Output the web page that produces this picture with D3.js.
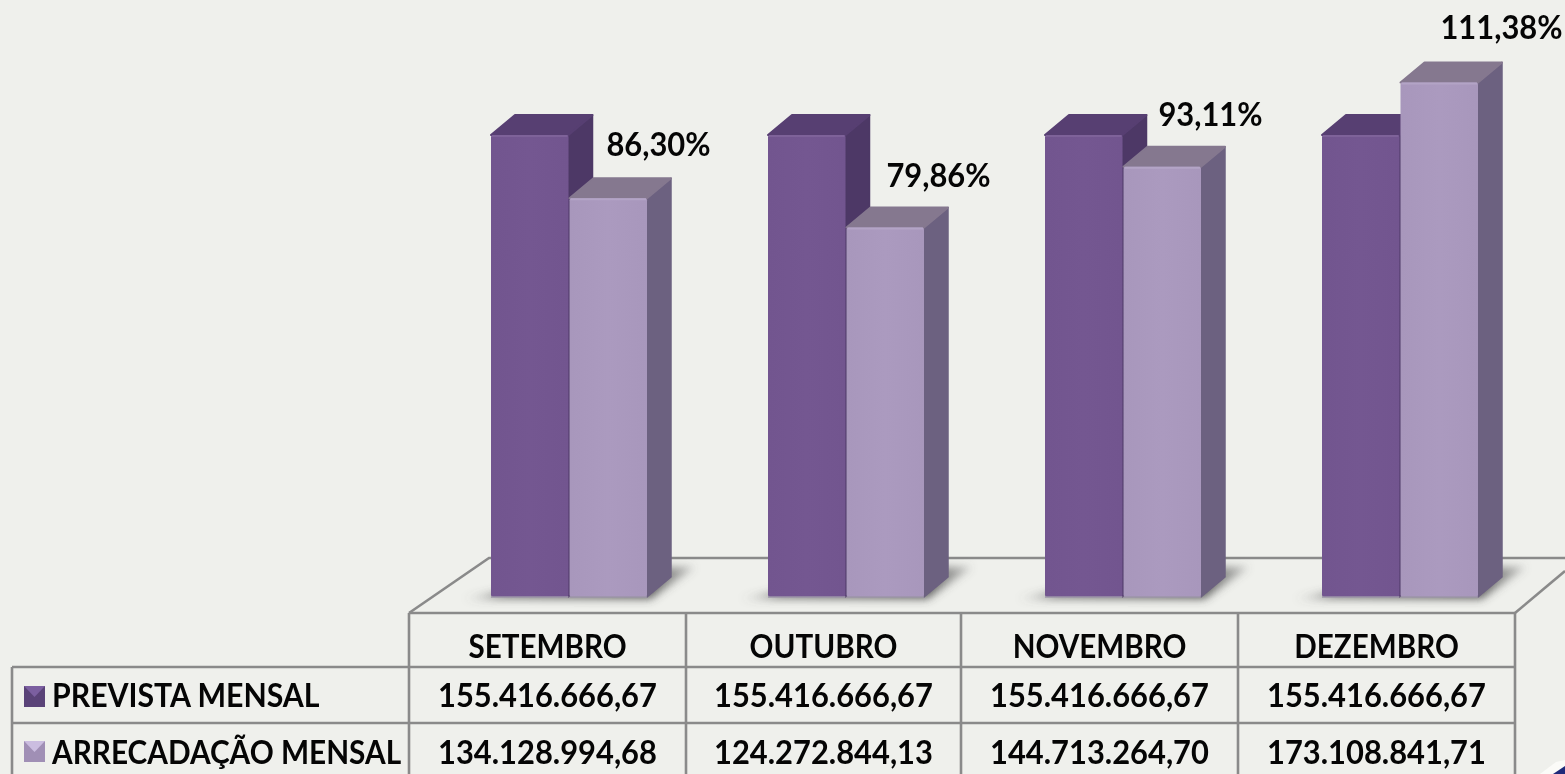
<!DOCTYPE html>
<html><head><meta charset="utf-8">
<script src="https://cdnjs.cloudflare.com/ajax/libs/d3/7.8.5/d3.min.js"></script>
<style>html,body{margin:0;padding:0;background:#eff0ec;overflow:hidden}svg{display:block;filter:blur(.55px)}text{font-family:Lato,"Open Sans",sans-serif;font-weight:700;fill:#050505}</style>
</head><body><svg id="c" width="1565" height="774"></svg>
<script>
const categories=["SETEMBRO","OUTUBRO","NOVEMBRO","DEZEMBRO"];
const prevista=[155416666.67,155416666.67,155416666.67,155416666.67];
const arrecadacao=[134128994.68,124272844.13,144713264.70,173108841.71];
const previstaLabels=["155.416.666,67","155.416.666,67","155.416.666,67","155.416.666,67"];
const arrecadacaoLabels=["134.128.994,68","124.272.844,13","144.713.264,70","173.108.841,71"];
const percentLabels=["86,30%","79,86%","93,11%","111,38%"];
const labelShiftX=[49,52,47,61];
const labelShiftY=[42,40.5,41,43];
const seriesNames=["PREVISTA MENSAL","ARRECADAÇÃO MENSAL"];

const W=1565,H=774,svg=d3.select("#c");
const y=d3.scaleLinear().domain([0,173108841.71]).range([597,82.4]);
const x=d3.scaleBand().domain(categories).range([430,1538]).paddingInner(0).paddingOuter(0);
const barW=77.5,dx=24,dy=20;
const center=c=>x(c)+x.bandwidth()/2;
const grid="#8a8a8a";
const defs=svg.append("defs");
defs.append("filter").attr("id","blur").attr("x","-30%").attr("y","-100%").attr("width","160%").attr("height","300%")
  .append("feGaussianBlur").attr("stdDeviation","4");
function lg(id,a,b){const g=defs.append("linearGradient").attr("id",id).attr("x1",0).attr("x2",1).attr("y1",0).attr("y2",0);
 g.append("stop").attr("offset",0).attr("stop-color",a);g.append("stop").attr("offset",.5).attr("stop-color",b);g.append("stop").attr("offset",1).attr("stop-color",a);}
lg("pf","#72558f","#745791");lg("lf","#a897bc","#ab9abf");
const sh=defs.append("linearGradient").attr("id","sh").attr("x1",0).attr("x2",1).attr("y1",0).attr("y2",0);
sh.append("stop").attr("offset",0).attr("stop-color","#666").attr("stop-opacity",.05);
sh.append("stop").attr("offset",.16).attr("stop-color","#555").attr("stop-opacity",.7);
sh.append("stop").attr("offset",.8).attr("stop-color","#444").attr("stop-opacity",.85);
sh.append("stop").attr("offset",1).attr("stop-color","#666").attr("stop-opacity",.35);

const line=(p,w=2.6)=>svg.append("path").attr("d",d3.line()(p)).attr("fill","none").attr("stroke",grid).attr("stroke-width",w);
line([[409,613],[489,558],[1565,558]]);
line([[1515,613],[1565,571]]);

function squeeze(sel,f){const n=sel.node(),l=n.getComputedTextLength();sel.attr("textLength",l*f).attr("lengthAdjust","spacingAndGlyphs");return sel;}
const pal=[{front:"url(#pf)",top:"#573f72",side:"#4d3866",hi:"#7e6299"},{front:"url(#lf)",top:"#85788f",side:"#6c6180",hi:"#b3a4c6"}];
const g=svg.append("g");
categories.forEach((c,i)=>{
  const cx=center(c);
  g.append("path").attr("d",`M${cx-106},599 L${cx+82},599 L${cx+126},567 L${cx+90},567 L${cx-60},590 Z`)
    .attr("fill","url(#sh)").attr("filter","url(#blur)");
  [prevista[i],arrecadacao[i]].forEach((v,s)=>{
    const x0=s===0?cx-barW:cx+1, x1=x0+barW, t=y(v), b=y(0), p=pal[s];
    const bg=g.append("g").attr("stroke-linejoin","round");
    bg.append("path").attr("d",`M${x1},${t} L${x1+dx},${t-dy} L${x1+dx},${b-dy} L${x1},${b} Z`).attr("fill",p.side).attr("stroke",p.side).attr("stroke-width",1.5);
    bg.append("path").attr("d",`M${x0},${t} L${x0+dx},${t-dy} L${x1+dx},${t-dy} L${x1},${t} Z`).attr("fill",p.top).attr("stroke",p.top).attr("stroke-width",2);
    bg.append("rect").attr("x",x0).attr("y",t).attr("width",barW).attr("height",b-t).attr("rx",2).attr("fill",p.front);
    bg.append("path").attr("d",`M${x0+1},${t+1} H${x1-1}`).attr("stroke",p.hi).attr("stroke-width",2);
    bg.append("path").attr("d",`M${x0},${b} H${x1}`).attr("stroke","#9c95a8").attr("stroke-width",1.5);
  });
  squeeze(svg.append("text").attr("x",cx+41+labelShiftX[i]).attr("y",y(arrecadacao[i])-labelShiftY[i]).attr("text-anchor","middle").attr("font-size",32).text(percentLabels[i]),.965);
});

const cols=[409,686,961,1238,1515];
line([[409,613],[1515,613]]);
line([[12,667],[1515,667]]);
line([[12,723],[1515,723]]);
line([[12,667],[12,774]]);
cols.forEach(v=>line([[v,613],[v,774]]));
const colC=i=>(cols[i]+cols[i+1])/2;
categories.forEach((c,i)=>{
  squeeze(svg.append("text").attr("x",colC(i)).attr("y",658).attr("text-anchor","middle").attr("font-size",32).text(c),.925);
  squeeze(svg.append("text").attr("x",colC(i)).attr("y",707).attr("text-anchor","middle").attr("font-size",32).text(previstaLabels[i]),.965);
  squeeze(svg.append("text").attr("x",colC(i)).attr("y",764).attr("text-anchor","middle").attr("font-size",32).text(arrecadacaoLabels[i]),.965);
});
const legendCol=[["#5a4378","#7b5fa0"],["#a08fb5","#cbbde0"]];
[0,1].forEach(s=>{
  const ky=s?741:686;
  svg.append("rect").attr("x",24).attr("y",ky).attr("width",21).attr("height",21).attr("fill",legendCol[s][0]);
  svg.append("path").attr("d",`M24,${ky} H45 L34.5,${ky+11} Z`).attr("fill",legendCol[s][1]);
  squeeze(svg.append("text").attr("x",52).attr("y",s?764:707).attr("font-size",32).text(seriesNames[s]),s?.93:.945);
});
// corner mark in the source image
svg.append("path").attr("d","M1540,774 L1556,762 L1565,760 V774 Z").attr("fill","#fbfbf8");
svg.append("path").attr("d","M1553,774 L1565,766 V774 Z").attr("fill","#1f2a7a");
</script></body></html>
